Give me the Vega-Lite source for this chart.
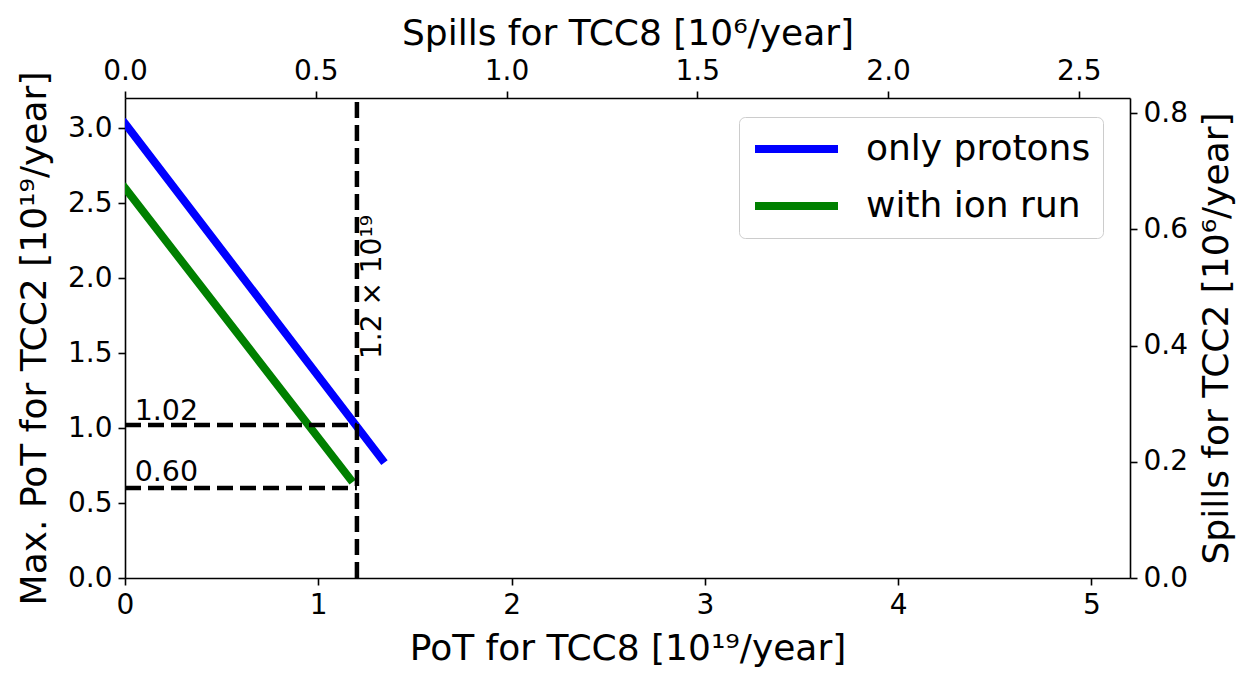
{
  "$schema": "https://vega.github.io/schema/vega-lite/v6.json",
  "autosize": {"type": "none"},
  "width": 1005,
  "height": 480,
  "padding": {"left": 125, "top": 98, "right": 125, "bottom": 100},
  "background": "white",
  "config": {
    "view": {"stroke": null},
    "font": "DejaVu Sans",
    "axis": {
      "domainColor": "black",
      "domainWidth": 1.6,
      "tickColor": "black",
      "tickWidth": 1.6,
      "tickSize": 7,
      "labelPadding": 6,
      "labelFont": "DejaVu Sans",
      "labelFontSize": 28,
      "labelColor": "black",
      "titleFont": "DejaVu Sans",
      "titleFontSize": 36,
      "titleFontWeight": "normal",
      "titleColor": "black",
      "grid": false,
      "labelFlush": false,
      "labelOverlap": false
    }
  },
  "datasets": {
    "curves": [
      {"series": "only protons", "pot8": 0, "pot2": 3.03},
      {"series": "only protons", "pot8": 1.33, "pot2": 0.79},
      {"series": "with ion run", "pot8": 0, "pot2": 2.6},
      {"series": "with ion run", "pot8": 1.165, "pot2": 0.66}
    ],
    "hlines": [
      {"y": 1.02, "x0": 0, "x1": 1.2},
      {"y": 0.60, "x0": 0, "x1": 1.2}
    ],
    "vline": [{"x": 1.2, "y0": 0, "y1": 3.2}],
    "notes": [
      {"x": 0.05, "y": 1.055, "label": "1.02"},
      {"x": 0.05, "y": 0.645, "label": "0.60"}
    ],
    "vnote": [{"x": 1.2, "y": 1.46, "label": "1.2 × 10¹⁹"}],
    "secondary": [
      {"s8": 0, "s2": 0},
      {"s8": 2.634, "s2": 0.826}
    ]
  },
  "layer": [
    {
      "layer": [
        {
          "data": {"name": "curves"},
          "mark": {"type": "line", "strokeWidth": 8, "strokeCap": "square", "clip": true},
          "encoding": {
            "x": {
              "field": "pot8", "type": "quantitative",
              "scale": {"domain": [0, 5.2], "nice": false, "zero": false},
              "axis": {"orient": "bottom", "title": "PoT for TCC8 [10¹⁹/year]", "values": [0, 1, 2, 3, 4, 5], "format": "d", "titlePadding": 12}
            },
            "y": {
              "field": "pot2", "type": "quantitative",
              "scale": {"domain": [0, 3.2], "nice": false, "zero": false},
              "axis": {"orient": "left", "title": "Max. PoT for TCC2 [10¹⁹/year]", "values": [0, 0.5, 1, 1.5, 2, 2.5, 3], "format": ".1f", "titlePadding": 14}
            },
            "color": {
              "field": "series", "type": "nominal",
              "scale": {"domain": ["only protons", "with ion run"], "range": ["#0000ff", "#008000"]},
              "legend": {
                "title": null,
                "orient": "none",
                "legendX": 614,
                "legendY": 19,
                "symbolType": "stroke",
                "symbolSize": 6889,
                "symbolStrokeWidth": 8,
                "labelFont": "DejaVu Sans",
                "labelFontSize": 36,
                "labelColor": "black",
                "labelOffset": 24,
                "labelLimit": 500,
                "rowPadding": 17,
                "padding": 12,
                "clipHeight": 40,
                "strokeColor": "#cccccc",
                "fillColor": "white",
                "cornerRadius": 6
              }
            }
          }
        },
        {
          "data": {"name": "hlines"},
          "mark": {"type": "rule", "strokeWidth": 4.5, "strokeDash": [16, 7], "color": "black"},
          "encoding": {
            "x": {"field": "x0", "type": "quantitative"},
            "x2": {"field": "x1"},
            "y": {"field": "y", "type": "quantitative"}
          }
        },
        {
          "data": {"name": "vline"},
          "mark": {"type": "rule", "strokeWidth": 4.5, "strokeDash": [16, 7], "color": "black"},
          "encoding": {
            "x": {"field": "x", "type": "quantitative"},
            "y": {"field": "y0", "type": "quantitative"},
            "y2": {"field": "y1"}
          }
        },
        {
          "data": {"name": "notes"},
          "mark": {"type": "text", "font": "DejaVu Sans", "fontSize": 28.5, "color": "black", "align": "left", "baseline": "alphabetic"},
          "encoding": {
            "x": {"field": "x", "type": "quantitative"},
            "y": {"field": "y", "type": "quantitative"},
            "text": {"field": "label"}
          }
        },
        {
          "data": {"name": "vnote"},
          "mark": {"type": "text", "font": "DejaVu Sans", "fontSize": 28, "color": "black", "align": "left", "baseline": "top", "angle": 270, "dy": 2},
          "encoding": {
            "x": {"field": "x", "type": "quantitative"},
            "y": {"field": "y", "type": "quantitative"},
            "text": {"field": "label"}
          }
        }
      ]
    },
    {
      "data": {"name": "secondary"},
      "mark": {"type": "point", "opacity": 0},
      "encoding": {
        "x": {
          "field": "s8", "type": "quantitative",
          "scale": {"domain": [0, 2.634], "nice": false, "zero": false},
          "axis": {"orient": "top", "title": "Spills for TCC8 [10⁶/year]", "values": [0, 0.5, 1, 1.5, 2, 2.5], "format": ".1f", "titlePadding": 5}
        },
        "y": {
          "field": "s2", "type": "quantitative",
          "scale": {"domain": [0, 0.826], "nice": false, "zero": false},
          "axis": {"orient": "right", "title": "Spills for TCC2 [10⁶/year]", "values": [0, 0.2, 0.4, 0.6, 0.8], "format": ".1f", "titlePadding": 12, "titleAngle": 270, "titleBaseline": "top"}
        }
      }
    }
  ],
  "resolve": {
    "scale": {"x": "independent", "y": "independent"},
    "axis": {"x": "independent", "y": "independent"}
  }
}
